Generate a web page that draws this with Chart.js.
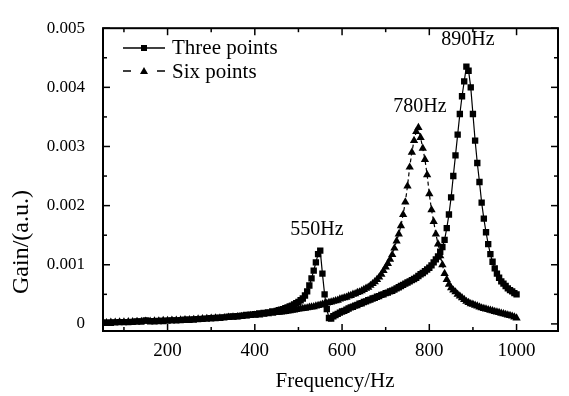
<!DOCTYPE html>
<html>
<head>
<meta charset="utf-8">
<script src="https://cdn.jsdelivr.net/npm/chart.js@4"></script>
<style>
  html, body { margin: 0; padding: 0; background: #fff; }
  canvas { display: block; }
</style>
</head>
<body>
<canvas id="gainChart" width="569" height="396"></canvas>
<script>
/* Gain vs frequency, three-point and six-point excitation */

const freqs = [
  50, 60, 70, 80, 90, 100, 110, 120, 130, 140,
  150, 160, 170, 180, 190, 200, 210, 220, 230, 240,
  250, 260, 270, 280, 290, 300, 310, 320, 330, 340,
  350, 360, 370, 380, 390, 400, 410, 420, 430, 440,
  450,
  455, 460, 465, 470, 475, 480, 485, 490, 495, 500,
  505, 510, 515, 520, 525, 530, 535, 540, 545, 550,
  555, 560, 565, 570, 575, 580, 585, 590, 595, 600,
  605, 610, 615, 620, 625, 630, 635, 640, 645, 650,
  655, 660, 665, 670, 675, 680, 685, 690, 695, 700,
  705, 710, 715, 720, 725, 730, 735, 740, 745, 750,
  755, 760, 765, 770, 775, 780, 785, 790, 795, 800,
  805, 810, 815, 820, 825, 830, 835, 840, 845, 850,
  855, 860, 865, 870, 875, 880, 885, 890, 895, 900,
  905, 910, 915, 920, 925, 930, 935, 940, 945, 950,
  955, 960, 965, 970, 975, 980, 985, 990, 995, 1000
];

const gainThree = [
  0.00002, 0.00002, 0.00002, 0.000025, 0.00003, 0.00003, 0.00003, 0.000035, 0.00004, 0.00004,
  0.00006, 0.000045, 0.000045, 0.00005, 0.00005, 0.000055, 0.00006, 0.00006, 0.000065, 0.00007,
  0.00007, 0.000075, 0.00008, 0.000085, 0.00009, 0.000095, 0.0001, 0.000105, 0.00011, 0.00012,
  0.000125, 0.00013, 0.00014, 0.00015, 0.000155, 0.000165, 0.000175, 0.000185, 0.000195, 0.00021,
  0.00022,
  0.00023, 0.00024, 0.00025, 0.000265, 0.00028, 0.000295, 0.00031, 0.00033, 0.00035, 0.00037,
  0.0004, 0.00043, 0.00048, 0.00055, 0.00065, 0.00077, 0.0009, 0.00104, 0.00118, 0.00124,
  0.00085, 0.0005, 0.00025, 0.0001, 0.00009, 0.00013, 0.00015, 0.00017, 0.00019, 0.00021,
  0.00022, 0.00024, 0.00026, 0.00028, 0.00029, 0.00031, 0.00032, 0.00034, 0.00035, 0.00037,
  0.00038, 0.0004, 0.00041, 0.00043, 0.00044, 0.00046, 0.00047, 0.00049, 0.0005, 0.00052,
  0.00053, 0.00055, 0.00056, 0.00058, 0.0006, 0.00062, 0.00064, 0.00066, 0.00068, 0.0007,
  0.00072, 0.00074, 0.00076, 0.00078, 0.00081, 0.00084, 0.00086, 0.00089, 0.00092, 0.00095,
  0.00099, 0.00104, 0.00109, 0.00114, 0.00122, 0.0013, 0.00142, 0.00162, 0.00185, 0.00214,
  0.0025, 0.00285, 0.0032, 0.00355, 0.00385, 0.0041, 0.00435, 0.00428, 0.004, 0.00355,
  0.0031, 0.00272, 0.0024, 0.00205, 0.00178, 0.00155, 0.00135, 0.00118, 0.00105, 0.00094,
  0.00085, 0.00078, 0.00072, 0.00068, 0.00064, 0.0006, 0.00057, 0.00055, 0.00052, 0.0005
];

const gainSix = [
  0.00002, 0.00002, 0.000025, 0.000025, 0.00003, 0.00003, 0.000035, 0.000035, 0.00004, 0.00004,
  0.000045, 0.000045, 0.00005, 0.00005, 0.000055, 0.000055, 0.00006, 0.00006, 0.000065, 0.00007,
  0.00007, 0.000075, 0.00008, 0.000085, 0.00009, 0.000095, 0.0001, 0.0001, 0.000105, 0.00011,
  0.000115, 0.00012, 0.000125, 0.00013, 0.00014, 0.000145, 0.00015, 0.00016, 0.00017, 0.00018,
  0.00019,
  0.000195, 0.0002, 0.000205, 0.00021, 0.000215, 0.00022, 0.00023, 0.000235, 0.00024, 0.00025,
  0.000255, 0.00026, 0.000265, 0.00027, 0.00028, 0.000285, 0.00029, 0.0003, 0.00031, 0.00032,
  0.00033, 0.00034, 0.00035, 0.00036, 0.00037, 0.00038, 0.00039, 0.0004, 0.00042, 0.00043,
  0.00044, 0.00045, 0.00047, 0.00048, 0.0005, 0.00051, 0.00053, 0.00054, 0.00056, 0.00058,
  0.0006, 0.00062, 0.00065, 0.00068, 0.00071, 0.00075, 0.00079, 0.00084, 0.0009, 0.00096,
  0.00102, 0.00109, 0.00117, 0.00128, 0.0014, 0.00152, 0.00166, 0.00185, 0.00206, 0.00233,
  0.00265, 0.0029, 0.0031, 0.00325, 0.00332, 0.00315, 0.00297, 0.00278, 0.00252, 0.0022,
  0.00193, 0.00173, 0.00152, 0.00135, 0.00115, 0.001, 0.00085, 0.00075, 0.00067, 0.00061,
  0.00057, 0.00054, 0.0005, 0.00047, 0.00044, 0.00041, 0.00038, 0.00036, 0.00034, 0.00033,
  0.000315, 0.0003, 0.000285, 0.00027, 0.00026, 0.00025, 0.00024, 0.00023, 0.00022, 0.00021,
  0.0002, 0.00019, 0.00018, 0.00017, 0.00016, 0.00015, 0.00014, 0.00013, 0.000115, 0.0001
];

const xTickValues = [200, 400, 600, 800, 1000];
const xTickLabels = ["200", "400", "600", "800", "1000"];
const xMinorValues = [100, 300, 500, 700, 900];
const yTickValues = [0, 0.001, 0.002, 0.003, 0.004, 0.005];
const yTickLabels = ["0", "0.001", "0.002", "0.003", "0.004", "0.005"];
const yMinorValues = [0.0005, 0.0015, 0.0025, 0.0035, 0.0045];

const peakLabels = [
  { text: "550Hz", x: 317, y: 235 },
  { text: "780Hz", x: 420, y: 112 },
  { text: "890Hz", x: 468, y: 45 }
];

const SERIF = '"Liberation Serif", "Times New Roman", serif';

const toPoints = (ys) => freqs.map((f, i) => ({ x: f, y: ys[i] }));

// box frame + inward ticks on all four sides
const frameTicks = {
  id: "frameTicks",
  afterDraw(chart) {
    const { ctx, chartArea: a, scales: { x, y } } = chart;
    ctx.save();
    ctx.strokeStyle = "#000";
    ctx.lineWidth = 2;
    ctx.strokeRect(a.left, a.top, a.right - a.left, a.bottom - a.top);

    const seg = (x1, y1, x2, y2) => {
      ctx.beginPath();
      ctx.moveTo(x1, y1);
      ctx.lineTo(x2, y2);
      ctx.stroke();
    };

    const xTicks = (vals, len) => vals.forEach((v) => {
      const px = x.getPixelForValue(v);
      seg(px, a.bottom, px, a.bottom - len);
      seg(px, a.top, px, a.top + len);
    });
    const yTicks = (vals, len) => vals.forEach((v) => {
      const py = y.getPixelForValue(v);
      seg(a.left, py, a.left + len, py);
      seg(a.right, py, a.right - len, py);
    });

    ctx.lineWidth = 1.5;
    xTicks(xTickValues, 7);
    xTicks(xMinorValues, 4);
    yTicks(yTickValues, 7);
    yTicks(yMinorValues, 4);
    ctx.restore();
  }
};

// titles, peak labels, legend
const textLayer = {
  id: "textLayer",
  afterDraw(chart) {
    const { ctx } = chart;
    ctx.save();
    ctx.fillStyle = "#000";
    ctx.strokeStyle = "#000";

    ctx.font = `20px ${SERIF}`;
    ctx.textAlign = "center";
    ctx.textBaseline = "alphabetic";
    peakLabels.forEach((p) => ctx.fillText(p.text, p.x, p.y));

    ctx.font = `21px ${SERIF}`;
    ctx.fillText("Frequency/Hz", 335, 387);

    ctx.save();
    ctx.translate(22, 242);
    ctx.rotate(-Math.PI / 2);
    ctx.textBaseline = "middle";
    ctx.font = `24px ${SERIF}`;
    ctx.fillText("Gain/(a.u.)", 0, 0);
    ctx.restore();

    // legend
    const ds = chart.data.datasets;
    ctx.lineWidth = 1.5;
    ctx.beginPath();
    ctx.moveTo(123, 48);
    ctx.lineTo(165, 48);
    ctx.stroke();
    ctx.fillRect(141, 45, 6, 6);

    ctx.beginPath();
    ctx.moveTo(123, 71);
    ctx.lineTo(131, 71);
    ctx.moveTo(157, 71);
    ctx.lineTo(165, 71);
    ctx.stroke();
    ctx.beginPath();
    ctx.moveTo(144, 67);
    ctx.lineTo(148, 74);
    ctx.lineTo(140, 74);
    ctx.closePath();
    ctx.fill();

    ctx.textAlign = "left";
    ctx.font = `21px ${SERIF}`;
    ctx.fillText(ds[0].label, 172, 54);
    ctx.fillText(ds[1].label, 172, 78);
    ctx.restore();
  }
};

new Chart(document.getElementById("gainChart"), {
  type: "line",
  data: {
    datasets: [
      {
        label: "Three points",
        data: toPoints(gainThree),
        borderColor: "#000",
        backgroundColor: "#000",
        borderWidth: 1.2,
        pointStyle: "rect",
        pointRadius: 4.5,
        pointBorderWidth: 0,
        tension: 0
      },
      {
        label: "Six points",
        data: toPoints(gainSix),
        borderColor: "#000",
        backgroundColor: "#000",
        borderWidth: 1.2,
        borderDash: [4, 3],
        pointStyle: "triangle",
        pointRadius: 4.8,
        pointBorderWidth: 0,
        tension: 0
      }
    ]
  },
  options: {
    responsive: false,
    animation: false,
    events: [],
    layout: { padding: { top: 16, right: 11, left: 0, bottom: 0 } },
    plugins: {
      legend: { display: false },
      tooltip: { enabled: false }
    },
    scales: {
      x: {
        type: "linear",
        min: 52,
        max: 1095,
        grid: { display: false, drawTicks: false },
        border: { display: false },
        ticks: {
          color: "#000",
          padding: 9,
          maxRotation: 0,
          autoSkip: false,
          font: { family: SERIF, size: 19 },
          callback: (v, i) => xTickLabels[i]
        },
        afterBuildTicks: (s) => { s.ticks = xTickValues.map((v) => ({ value: v })); },
        afterFit: (s) => { s.height = 65; }
      },
      y: {
        type: "linear",
        min: -0.00012,
        max: 0.005,
        grid: { display: false, drawTicks: false },
        border: { display: false },
        ticks: {
          color: "#000",
          padding: 18,
          font: { family: SERIF, size: 17 },
          callback: (v, i) => yTickLabels[i]
        },
        afterBuildTicks: (s) => { s.ticks = yTickValues.map((v) => ({ value: v })); },
        afterFit: (s) => { s.width = 103; }
      }
    }
  },
  plugins: [frameTicks, textLayer]
});
</script>
</body>
</html>
